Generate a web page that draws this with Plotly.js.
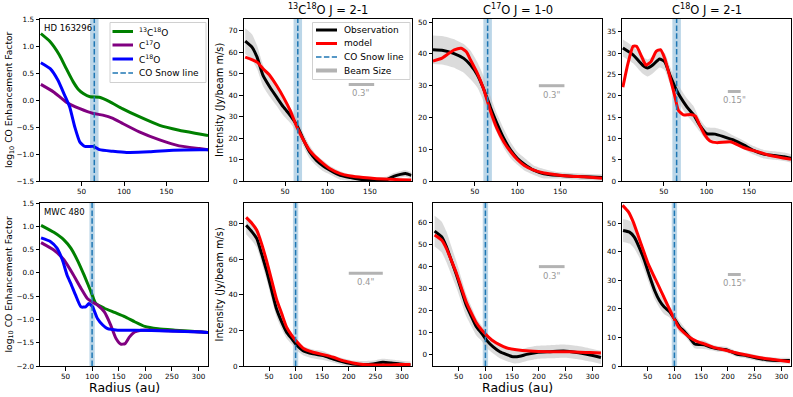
<!DOCTYPE html>
<html>
<head>
<meta charset="utf-8">
<script src="https://cdn.plot.ly/plotly-3.0.1.min.js"></script>
<style>
  html, body { margin: 0; padding: 0; background: #fff; }
  #chart { width: 793px; height: 397px; }
</style>
</head>
<body>
<div id="chart"></div>
<script>
// CO 増強因子と強度プロファイル（HD 163296 / MWC 480）

const sources = ['HD 163296', 'MWC 480'];
const lineTitles = ['<sup>13</sup>C<sup>18</sup>O J = 2-1', 'C<sup>17</sup>O J = 1-0', 'C<sup>18</sup>O J = 2-1'];
const speciesNames = ['<sup>13</sup>C<sup>18</sup>O', 'C<sup>17</sup>O', 'C<sup>18</sup>O'];
const snowR = [65, 100];
const snowHalf = [5, 5];

// --- HD 163296: enhancement factor (log10)
const hdR13 = [2, 13, 24, 32, 40, 46, 52, 60, 71, 83, 98, 118, 142, 165, 189, 199];
const hdE13 = [1.23, 1.08, 0.83, 0.58, 0.34, 0.2, 0.12, 0.06, 0.05, -0.03, -0.16, -0.31, -0.47, -0.56, -0.63, -0.66];
const hdR17 = [2, 17, 32, 48, 64, 75, 87, 99, 118, 142, 165, 189, 199];
const hdE17 = [0.29, 0.15, -0.04, -0.16, -0.25, -0.28, -0.34, -0.44, -0.59, -0.74, -0.85, -0.9, -0.92];
const hdR18 = [2, 13, 22, 30, 36, 42, 48, 54, 64, 71, 87, 103, 130, 158, 189, 199];
const hdE18 = [0.69, 0.58, 0.37, 0.09, -0.13, -0.5, -0.78, -0.86, -0.86, -0.92, -0.95, -0.97, -0.96, -0.93, -0.92, -0.92];

// --- MWC 480: enhancement factor (log10)
const mwR13 = [4, 28, 47, 60, 72, 85, 98, 107, 123, 142, 161, 180, 199, 224, 256, 306, 318];
const mwE13 = [1.02, 0.87, 0.71, 0.53, 0.28, -0.05, -0.41, -0.66, -0.76, -0.85, -0.94, -1.05, -1.15, -1.2, -1.23, -1.27, -1.28];
const mwR17 = [4, 28, 47, 63, 79, 91, 101, 110, 123, 135, 145, 154, 162, 170, 180, 192, 218, 256, 306, 318];
const mwE17 = [0.65, 0.49, 0.28, -0.01, -0.33, -0.55, -0.63, -0.69, -0.84, -1.12, -1.41, -1.53, -1.52, -1.38, -1.27, -1.23, -1.23, -1.25, -1.27, -1.28];
const mwR18 = [4, 22, 34, 44, 53, 60, 69, 79, 88, 94, 101, 110, 120, 129, 148, 180, 243, 306, 318];
const mwE18 = [0.75, 0.67, 0.53, 0.28, -0.05, -0.23, -0.48, -0.73, -0.73, -0.66, -0.73, -0.98, -1.12, -1.2, -1.23, -1.23, -1.25, -1.27, -1.28];

// --- HD 163296: 13C18O 2-1
const hd13ObsR = [3, 11, 17, 24, 32, 40, 48, 56, 64, 72, 79, 87, 95, 103, 115, 127, 142, 158, 170, 178, 186, 192, 199];
const hd13Obs = [65.2, 62.4, 57.7, 49.2, 43.8, 39.1, 34.5, 30.6, 25.9, 18.9, 13.5, 9.6, 7.0, 5.0, 2.6, 1.6, 0.6, 0.3, 0.6, 2.2, 3.1, 3.5, 2.6];
const hd13Err = [6, 6, 5.5, 5, 4.5, 4, 4, 3.5, 3.5, 3, 3, 2.5, 2.5, 2, 2, 1.5, 1.5, 1.5, 1.5, 1.5, 1.5, 1.5, 1.5];
const hd13ModR = [3, 17, 24, 32, 40, 48, 56, 64, 72, 79, 87, 95, 103, 115, 127, 142, 158, 174, 186, 199];
const hd13Mod = [57.7, 55.4, 52.3, 49.2, 44.5, 39.1, 32.9, 25.1, 18.9, 14.3, 10.9, 8.1, 5.7, 3.4, 2.3, 1.6, 1.1, 0.8, 0.6, 0.5];

// --- HD 163296: C17O 1-0
const hd17ObsR = [1, 13, 25, 37, 45, 53, 60, 68, 76, 84, 92, 100, 108, 119, 131, 147, 163, 178, 199];
const hd17Obs = [41.3, 41.1, 40.2, 38.6, 36.5, 33.4, 29.2, 23.4, 18.1, 13.4, 9.7, 7.1, 5.3, 3.4, 2.3, 1.8, 1.5, 1.3, 1.1];
const hd17Err = [4.5, 4.5, 4.5, 4.5, 4.5, 4, 4, 3.5, 3, 3, 2.5, 2, 2, 1.5, 1.5, 1, 1, 1, 1];
const hd17ModR = [1, 11, 18, 26, 34, 40, 45, 53, 60, 68, 76, 84, 92, 100, 108, 119, 131, 147, 163, 178, 199];
const hd17Mod = [37.8, 38.6, 39.9, 41.3, 41.8, 40.7, 38.1, 33.9, 29.2, 22.3, 16.5, 12.3, 9.2, 6.7, 4.9, 3.4, 2.5, 1.9, 1.5, 1.3, 0.9];

// --- HD 163296: C18O 2-1
const hd18ObsR = [2, 14, 25, 31, 37, 45, 51, 57, 63, 69, 77, 85, 92, 100, 110, 120, 132, 144, 155, 167, 179, 191, 199];
const hd18Obs = [31.2, 29.6, 27.2, 26.5, 27.2, 28.6, 28.0, 24.9, 22.1, 19.8, 17.4, 15.5, 13.1, 11.1, 11.0, 10.4, 9.6, 8.4, 7.2, 6.3, 6.0, 5.7, 5.3];
const hd18Err = [2, 2, 2, 2, 2, 2, 2, 2, 2, 2, 2, 2, 1.5, 1.5, 1.5, 1.5, 1, 1, 1, 1, 1, 1, 1];
const hd18ModR = [2, 8, 14, 18, 24, 29, 35, 41, 46, 51, 57, 63, 67, 73, 81, 87, 92, 98, 104, 112, 128, 144, 159, 175, 199];
const hd18Mod = [22, 27.6, 31.6, 31.6, 29.2, 27.2, 28, 30.4, 30.8, 28.8, 24.5, 19.8, 16.6, 15.5, 15.6, 15.2, 13.1, 10.8, 9.4, 9.0, 9.2, 7.8, 6.9, 6.0, 5.1];

// --- MWC 480: 13C18O 2-1
const mw13ObsR = [7, 18, 27, 36, 46, 55, 64, 74, 83, 93, 102, 114, 133, 152, 171, 189, 208, 227, 246, 264, 280, 296, 316];
const mw13Obs = [79, 75.3, 71.5, 63.1, 52.8, 42.4, 32.1, 24.6, 19, 15.2, 11.8, 8.6, 6.8, 5.8, 3.9, 2.4, 1.1, 0.8, 1.1, 2.1, 1.7, 1.1, 0.5];
const mw13Err = [5, 5, 5, 5, 5, 5, 4.5, 4, 3.5, 3, 3, 2.5, 2.5, 2.5, 2, 2, 2, 2, 2, 2, 2, 2, 2];
const mw13ModR = [7, 18, 27, 36, 46, 55, 64, 74, 83, 93, 102, 114, 133, 152, 171, 189, 208, 227, 252, 277, 296, 316];
const mw13Mod = [83.4, 80, 76.2, 68.7, 58.4, 48.1, 37.7, 29.3, 21.8, 17.1, 13.7, 10, 7.7, 6.4, 4.9, 3.0, 1.7, 0.8, 0.6, 0.6, 0.8, 0.8];

// --- MWC 480: C17O 1-0
const mw17ObsR = [5, 18, 27, 36, 46, 55, 64, 74, 83, 93, 102, 114, 127, 139, 152, 164, 177, 196, 221, 246, 271, 296, 316];
const mw17Obs = [56.2, 53.6, 49.1, 43, 36.2, 29.3, 22.5, 17.2, 12.6, 9.6, 6.5, 3.5, 1.2, 0, -1.1, -0.9, 0, 0.9, 1.2, 1.5, 0.9, -0.3, -1.4];
const mw17Err = [7, 7, 7, 6.5, 6, 5.5, 5, 4.5, 4, 3.5, 3.5, 3, 3, 3, 3, 3, 3, 3, 3, 3, 3, 3, 3];
const mw17ModR = [5, 18, 27, 36, 46, 55, 64, 74, 83, 93, 102, 114, 127, 139, 158, 183, 221, 258, 296, 316];
const mw17Mod = [54.4, 52.1, 48.3, 43, 36.9, 30.4, 24, 18.7, 14.4, 11.1, 8.8, 6.2, 4.3, 3.0, 2.1, 1.5, 1.2, 1.2, 0.8, 0.6];

// --- MWC 480: C18O 2-1
const mw18ObsR = [4, 16, 25, 34, 44, 53, 63, 72, 81, 91, 100, 110, 119, 128, 138, 147, 156, 169, 181, 197, 216, 235, 253, 272, 291, 316];
const mw18Obs = [47.4, 46.8, 45.1, 41.6, 36.9, 31.7, 26.4, 22.9, 20.6, 19, 16.5, 13.6, 12, 10, 7.7, 7.5, 7.4, 6.5, 6.0, 5.7, 4.2, 3.6, 2.8, 2.2, 1.9, 1.9];
const mw18Err = [4, 4, 4, 3.5, 3.5, 3, 3, 2.5, 2.5, 2, 2, 2, 1.5, 1.5, 1.5, 1.5, 1.5, 1, 1, 1, 1, 1, 1, 1, 1, 1];
const mw18ModR = [3, 14, 23, 32, 42, 51, 61, 70, 79, 89, 98, 108, 117, 129, 142, 158, 173, 192, 211, 230, 248, 267, 292, 316];
const mw18Mod = [56.2, 53.9, 50.4, 45.7, 40.4, 35.7, 31.7, 28.2, 24.6, 20.6, 17.1, 13.6, 11.8, 10, 8.6, 7.6, 6.5, 5.7, 4.8, 4.0, 3.3, 2.7, 2.1, 1.5];

// beam sizes (au) drawn as bars: panel order 13C18O, C17O, C18O
const beamLabels = ['0.3"', '0.3"', '0.15"', '0.4"', '0.3"', '0.15"'];
const beamX0 = [125, 125, 125, 200, 200, 200];
const beamX1 = [155, 155, 140, 264, 248, 224];
const beamY = [45, 30, 21, 52, 40, 32];

const W = 793, H = 397;
const FONT = 'DejaVu Sans, sans-serif';
const colX = [[40, 208], [243.5, 411.5], [433, 602], [622, 791]];
const rowY = [[19, 181], [203, 366]];
const xRanges = [[1, 199], [2, 318]];
const yRanges = [[-1.5, 1.5], [0, 75.5], [0, 51], [0, 38], [-2, 1.5], [0, 91.5], [-5.3, 69], [0, 57]];
const yDticks = [0.5, 10, 10, 5, 0.5, 20, 10, 10];

const enh = [
  [[hdR13, hdE13], [hdR17, hdE17], [hdR18, hdE18]],
  [[mwR13, mwE13], [mwR17, mwE17], [mwR18, mwE18]],
];
const prof = [
  [[hd13ObsR, hd13Obs, hd13Err, hd13ModR, hd13Mod], [hd17ObsR, hd17Obs, hd17Err, hd17ModR, hd17Mod], [hd18ObsR, hd18Obs, hd18Err, hd18ModR, hd18Mod]],
  [[mw13ObsR, mw13Obs, mw13Err, mw13ModR, mw13Mod], [mw17ObsR, mw17Obs, mw17Err, mw17ModR, mw17Mod], [mw18ObsR, mw18Obs, mw18Err, mw18ModR, mw18Mod]],
];
const specColors = ['#008000', '#800080', '#0000ff'];
const SNOW = '#1f77b4';
const DASH = '5.5px,2.4px';
const BEAM = '#b3b3b3';

const traces = [];
const shapes = [];
const annotations = [];
const layout = {
  width: W, height: H,
  margin: { l: 0, r: 0, t: 0, b: 0 },
  paper_bgcolor: '#fff', plot_bgcolor: '#fff',
  font: { family: FONT, size: 7, color: '#000' },
  showlegend: false,
};

const sm = () => ({ shape: 'spline', smoothing: 0.5 });

for (let row = 0; row < 2; row++) {
  for (let col = 0; col < 4; col++) {
    const i = row * 4 + col + 1;
    const sfx = i === 1 ? '' : String(i);
    const xa = 'x' + sfx, ya = 'y' + sfx;
    const axBase = {
      showline: true, mirror: true, linecolor: '#000', linewidth: 1,
      ticks: 'outside', ticklen: 3.5, tickwidth: 1, tickcolor: '#000',
      showgrid: false, zeroline: false, automargin: false,
      tickfont: { family: FONT, size: 7.2, color: '#000' },
    };
    layout['xaxis' + sfx] = Object.assign({}, axBase, {
      domain: [colX[col][0] / W, colX[col][1] / W], anchor: ya,
      range: xRanges[row], dtick: 50, tick0: 0,
    });
    layout['yaxis' + sfx] = Object.assign({}, axBase, {
      domain: [1 - rowY[row][1] / H, 1 - rowY[row][0] / H], anchor: xa,
      range: yRanges[i - 1], dtick: yDticks[i - 1], tick0: 0,
      tickformat: col === 0 ? '.1f' : 'd',
    });

    // snow line band + dashed line
    shapes.push({ type: 'rect', xref: xa, yref: ya + ' domain', x0: snowR[row] - snowHalf[row], x1: snowR[row] + snowHalf[row], y0: 0, y1: 1,
      fillcolor: 'rgba(31,119,180,0.3)', line: { width: 0 }, layer: 'below' });
    shapes.push({ type: 'line', xref: xa, yref: ya + ' domain', x0: snowR[row], x1: snowR[row], y0: 0, y1: 1,
      line: { color: SNOW, width: 1.5, dash: DASH }, layer: 'above' });

    if (col === 0) {
      enh[row].forEach(([r, e], k) => {
        traces.push({ x: r, y: e, xaxis: xa, yaxis: ya, mode: 'lines', name: speciesNames[k],
          line: Object.assign({ color: specColors[k], width: 3 }, sm()) });
      });
      annotations.push({ xref: xa + ' domain', yref: ya + ' domain', x: 0.013, y: 0.985, xanchor: 'left', yanchor: 'top',
        text: sources[row], showarrow: false, font: { family: FONT, size: 8.5, color: '#000' } });
    } else {
      const [oR, o, err, mR, m] = prof[row][col - 1];
      const lo = o.map((v, j) => v - err[j]);
      const hi = o.map((v, j) => v + err[j]);
      traces.push({ x: oR, y: lo, xaxis: xa, yaxis: ya, mode: 'lines', line: Object.assign({ width: 0, color: 'rgba(0,0,0,0)' }, sm()), hoverinfo: 'skip' });
      traces.push({ x: oR, y: hi, xaxis: xa, yaxis: ya, mode: 'lines', fill: 'tonexty', fillcolor: 'rgba(190,190,190,0.55)',
        line: Object.assign({ width: 0, color: 'rgba(0,0,0,0)' }, sm()), hoverinfo: 'skip' });
      traces.push({ x: oR, y: o, xaxis: xa, yaxis: ya, mode: 'lines', name: 'Observation',
        line: Object.assign({ color: '#000', width: 3 }, sm()) });
      traces.push({ x: mR, y: m, xaxis: xa, yaxis: ya, mode: 'lines', name: 'model',
        line: Object.assign({ color: '#ff0000', width: 3 }, sm()) });
      const b = row * 3 + col - 1;
      traces.push({ x: [beamX0[b], beamX1[b]], y: [beamY[b], beamY[b]], xaxis: xa, yaxis: ya, mode: 'lines',
        name: 'Beam Size', line: { color: BEAM, width: 3 } });
      annotations.push({ xref: xa, yref: ya, x: (beamX0[b] + beamX1[b]) / 2, y: beamY[b], yshift: -9,
        xanchor: 'center', yanchor: 'middle',
        text: beamLabels[b], showarrow: false, font: { family: FONT, size: 8.5, color: '#999999' } });
    }
  }
}

// text placed in pixels of the 793x397 picture
const pa = (px, py, text, size, angle, anchor) => ({
  xref: 'paper', yref: 'paper', x: px / W, y: 1 - py / H, xanchor: anchor || 'center', yanchor: 'middle',
  text, showarrow: false, textangle: angle || 0, font: { family: FONT, size, color: '#000' },
});
[1, 2, 3].forEach((c, k) => {
  annotations.push(pa((colX[c][0] + colX[c][1]) / 2, 9, lineTitles[k], 11.5));
});
rowY.forEach((ry) => {
  const yc = (ry[0] + ry[1]) / 2;
  annotations.push(pa(9, yc, 'log<sub>10</sub> CO Enhancement Factor', 9.2, -90));
  annotations.push(pa(219, yc, 'Intensity (Jy/beam m/s)', 9.8, -90));
});
[0, 2].forEach((c) => {
  annotations.push(pa((colX[c][0] + colX[c][1]) / 2, 387, 'Radius (au)', 12.5));
});

// legends (matplotlib style boxes): box [x0, y0, x1, y1], row centres, sample span, text start
function addLegend(box, rowsY, sx0, sx1, tx, items) {
  shapes.push({ type: 'rect', xref: 'paper', yref: 'paper', layer: 'above',
    x0: box[0] / W, x1: box[2] / W, y0: 1 - box[3] / H, y1: 1 - box[1] / H,
    fillcolor: 'rgba(255,255,255,0.85)', line: { color: '#d0d0d0', width: 1 } });
  items.forEach((it, k) => {
    const yy = 1 - rowsY[k] / H;
    shapes.push({ type: 'line', xref: 'paper', yref: 'paper', layer: 'above',
      x0: sx0 / W, x1: sx1 / W, y0: yy, y1: yy, line: { color: it.color, width: it.width, dash: it.dash || 'solid' } });
    annotations.push(pa(tx, rowsY[k], it.text, 9, 0, 'left'));
  });
}
addLegend([110, 22.5, 206, 82.5], [31.5, 45, 59, 73], 112.5, 133, 137, [
  { text: speciesNames[0], color: specColors[0], width: 3 },
  { text: speciesNames[1], color: specColors[1], width: 3 },
  { text: speciesNames[2], color: specColors[2], width: 3 },
  { text: 'CO Snow line', color: SNOW, width: 1.5, dash: DASH },
]);
addLegend([312.5, 22.5, 410, 79.5], [30, 43.5, 57, 70.5], 316, 337, 341.5, [
  { text: 'Observation', color: '#000', width: 3 },
  { text: 'model', color: '#ff0000', width: 3 },
  { text: 'CO Snow line', color: SNOW, width: 1.5, dash: DASH },
  { text: 'Beam Size', color: BEAM, width: 4 },
]);

layout.shapes = shapes;
layout.annotations = annotations;

Plotly.newPlot('chart', traces, layout, { displayModeBar: false, staticPlot: true });
</script>
</body>
</html>
